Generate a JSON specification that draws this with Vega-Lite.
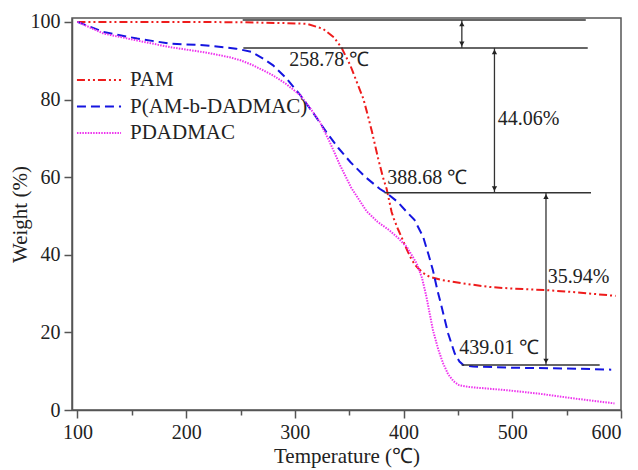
{
  "$schema": "https://vega.github.io/schema/vega-lite/v6.json",
  "width": 549,
  "height": 392,
  "autosize": {"type": "none"},
  "padding": {"left": 72, "top": 18, "right": 17, "bottom": 60},
  "background": "white",
  "config": {
    "view": {"stroke": "#555", "strokeWidth": 1.5},
    "axis": {
      "labelFont": "Liberation Serif", "labelFontSize": 20, "labelColor": "#222",
      "titleFont": "Liberation Serif", "titleFontSize": 21, "titleColor": "#222", "titleFontWeight": "normal",
      "domainColor": "#555", "domainWidth": 1.5, "tickColor": "#555", "tickWidth": 1.5,
      "grid": false, "labelPadding": 4
    },
    "legend": {"labelFont": "Liberation Serif", "labelFontSize": 21, "labelColor": "#222", "labelLimit": 0}
  },
  "datasets": {
    "curves": [
      {"T": 100, "W": 100, "s": "PAM"}, {"T": 150, "W": 100, "s": "PAM"}, {"T": 200, "W": 100, "s": "PAM"},
      {"T": 250, "W": 99.9, "s": "PAM"}, {"T": 290, "W": 99.7, "s": "PAM"}, {"T": 311, "W": 99.5, "s": "PAM"},
      {"T": 326, "W": 98.2, "s": "PAM"}, {"T": 336, "W": 96.0, "s": "PAM"}, {"T": 343, "W": 93.3, "s": "PAM"},
      {"T": 351, "W": 88.8, "s": "PAM"}, {"T": 357, "W": 84.5, "s": "PAM"}, {"T": 363, "W": 80.2, "s": "PAM"},
      {"T": 367, "W": 76.0, "s": "PAM"}, {"T": 371, "W": 71.6, "s": "PAM"}, {"T": 376.6, "W": 64.8, "s": "PAM"},
      {"T": 381, "W": 60.0, "s": "PAM"}, {"T": 384.4, "W": 57.0, "s": "PAM"}, {"T": 389, "W": 51.0, "s": "PAM"},
      {"T": 391, "W": 49.3, "s": "PAM"}, {"T": 395, "W": 46.5, "s": "PAM"}, {"T": 398, "W": 44.6, "s": "PAM"},
      {"T": 402, "W": 42.0, "s": "PAM"}, {"T": 406, "W": 39.5, "s": "PAM"}, {"T": 410, "W": 37.6, "s": "PAM"},
      {"T": 413.4, "W": 36.5, "s": "PAM"}, {"T": 418, "W": 35.3, "s": "PAM"}, {"T": 424, "W": 34.3, "s": "PAM"},
      {"T": 435, "W": 33.5, "s": "PAM"}, {"T": 455, "W": 32.6, "s": "PAM"}, {"T": 479, "W": 31.7, "s": "PAM"},
      {"T": 499, "W": 31.3, "s": "PAM"}, {"T": 531, "W": 30.9, "s": "PAM"}, {"T": 560, "W": 30.3, "s": "PAM"},
      {"T": 595, "W": 29.4, "s": "PAM"},

      {"T": 100, "W": 100, "s": "P(AM-b-DADMAC)"}, {"T": 124, "W": 97.4, "s": "P(AM-b-DADMAC)"},
      {"T": 155, "W": 95.7, "s": "P(AM-b-DADMAC)"}, {"T": 185, "W": 94.4, "s": "P(AM-b-DADMAC)"},
      {"T": 216, "W": 94.0, "s": "P(AM-b-DADMAC)"}, {"T": 246, "W": 93.1, "s": "P(AM-b-DADMAC)"},
      {"T": 260, "W": 92.3, "s": "P(AM-b-DADMAC)"}, {"T": 271, "W": 90.5, "s": "P(AM-b-DADMAC)"},
      {"T": 280, "W": 88.8, "s": "P(AM-b-DADMAC)"}, {"T": 292, "W": 85.5, "s": "P(AM-b-DADMAC)"},
      {"T": 305, "W": 81.1, "s": "P(AM-b-DADMAC)"}, {"T": 317, "W": 76.5, "s": "P(AM-b-DADMAC)"},
      {"T": 329, "W": 71.6, "s": "P(AM-b-DADMAC)"}, {"T": 340, "W": 67.5, "s": "P(AM-b-DADMAC)"},
      {"T": 351, "W": 63.9, "s": "P(AM-b-DADMAC)"}, {"T": 365, "W": 60.0, "s": "P(AM-b-DADMAC)"},
      {"T": 378, "W": 57.0, "s": "P(AM-b-DADMAC)"}, {"T": 385, "W": 55.8, "s": "P(AM-b-DADMAC)"},
      {"T": 395, "W": 53.5, "s": "P(AM-b-DADMAC)"}, {"T": 403, "W": 51.0, "s": "P(AM-b-DADMAC)"},
      {"T": 410, "W": 49.0, "s": "P(AM-b-DADMAC)"}, {"T": 418, "W": 44.6, "s": "P(AM-b-DADMAC)"},
      {"T": 423, "W": 40.0, "s": "P(AM-b-DADMAC)"}, {"T": 427, "W": 36.0, "s": "P(AM-b-DADMAC)"},
      {"T": 431, "W": 31.0, "s": "P(AM-b-DADMAC)"}, {"T": 435, "W": 26.6, "s": "P(AM-b-DADMAC)"},
      {"T": 441, "W": 19.7, "s": "P(AM-b-DADMAC)"}, {"T": 447, "W": 14.6, "s": "P(AM-b-DADMAC)"},
      {"T": 451.4, "W": 12.5, "s": "P(AM-b-DADMAC)"}, {"T": 455, "W": 11.6, "s": "P(AM-b-DADMAC)"},
      {"T": 464, "W": 11.2, "s": "P(AM-b-DADMAC)"}, {"T": 500, "W": 10.9, "s": "P(AM-b-DADMAC)"},
      {"T": 550, "W": 10.7, "s": "P(AM-b-DADMAC)"}, {"T": 591, "W": 10.4, "s": "P(AM-b-DADMAC)"},

      {"T": 100, "W": 100, "s": "PDADMAC"}, {"T": 124, "W": 97.0, "s": "PDADMAC"},
      {"T": 155, "W": 95.2, "s": "PDADMAC"}, {"T": 185, "W": 93.5, "s": "PDADMAC"},
      {"T": 216, "W": 92.2, "s": "PDADMAC"}, {"T": 240, "W": 90.9, "s": "PDADMAC"},
      {"T": 250, "W": 90.1, "s": "PDADMAC"}, {"T": 260, "W": 89.0, "s": "PDADMAC"},
      {"T": 271, "W": 87.5, "s": "PDADMAC"}, {"T": 280, "W": 86.2, "s": "PDADMAC"},
      {"T": 292, "W": 84.0, "s": "PDADMAC"}, {"T": 305, "W": 81.1, "s": "PDADMAC"},
      {"T": 314, "W": 77.8, "s": "PDADMAC"}, {"T": 323, "W": 74.2, "s": "PDADMAC"},
      {"T": 332, "W": 69.1, "s": "PDADMAC"}, {"T": 341.5, "W": 63.1, "s": "PDADMAC"},
      {"T": 352, "W": 57.2, "s": "PDADMAC"}, {"T": 366, "W": 51.2, "s": "PDADMAC"},
      {"T": 376, "W": 48.5, "s": "PDADMAC"}, {"T": 387, "W": 46.3, "s": "PDADMAC"},
      {"T": 395, "W": 44.3, "s": "PDADMAC"}, {"T": 403, "W": 42.0, "s": "PDADMAC"},
      {"T": 412, "W": 37.8, "s": "PDADMAC"}, {"T": 417, "W": 34.0, "s": "PDADMAC"},
      {"T": 421, "W": 29.2, "s": "PDADMAC"}, {"T": 427, "W": 20.6, "s": "PDADMAC"},
      {"T": 432, "W": 15.5, "s": "PDADMAC"}, {"T": 436.4, "W": 12.0, "s": "PDADMAC"},
      {"T": 441, "W": 9.2, "s": "PDADMAC"}, {"T": 446, "W": 7.4, "s": "PDADMAC"},
      {"T": 451, "W": 6.4, "s": "PDADMAC"}, {"T": 461, "W": 5.9, "s": "PDADMAC"},
      {"T": 495, "W": 5.1, "s": "PDADMAC"}, {"T": 525, "W": 4.2, "s": "PDADMAC"},
      {"T": 556, "W": 3.0, "s": "PDADMAC"}, {"T": 594, "W": 1.7, "s": "PDADMAC"}
    ],
    "hlines": [
      {"x1": 252, "x2": 567.6, "y": 100.5},
      {"x1": 252.6, "x2": 569.4, "y": 93.3},
      {"x1": 382.5, "x2": 572.4, "y": 56.0},
      {"x1": 453.4, "x2": 580.4, "y": 11.6}
    ],
    "vlines": [
      {"x": 453.6, "y1": 100.5, "y2": 93.3},
      {"x": 483.6, "y1": 93.3, "y2": 56.0},
      {"x": 531, "y1": 56.0, "y2": 11.6}
    ],
    "labels": [
      {"x": 294.9, "y": 90.1, "t": "258.78 ℃"},
      {"x": 486.7, "y": 74.9, "t": "44.06%"},
      {"x": 385, "y": 59.9, "t": "388.68 ℃"},
      {"x": 532.6, "y": 34.3, "t": "35.94%"},
      {"x": 451.1, "y": 15.9, "t": "439.01 ℃"}
    ]
  },
  "layer": [
    {
      "data": {"name": "curves"},
      "mark": {"type": "line", "strokeWidth": 2, "clip": true},
      "encoding": {
        "x": {
          "field": "T", "type": "quantitative",
          "scale": {"domain": [95, 600], "nice": false, "zero": false},
          "axis": {
            "title": "Temperature (℃)",
            "values": [100, 150, 200, 250, 300, 350, 400, 450, 500, 550, 600],
            "labelExpr": "datum.value % 100 === 0 ? datum.label : ''",
            "tickSize": {"condition": {"test": "datum.value % 100 === 0", "value": 8}, "value": 5},
            "titlePadding": 3
          }
        },
        "y": {
          "field": "W", "type": "quantitative",
          "scale": {"domain": [0, 101], "nice": false},
          "axis": {
            "title": "Weight (%)",
            "values": [0, 10, 20, 30, 40, 50, 60, 70, 80, 90, 100],
            "labelExpr": "datum.value % 20 === 0 ? datum.label : ''",
            "tickSize": {"condition": {"test": "datum.value % 20 === 0", "value": 8}, "value": 5},
            "titlePadding": 0
          }
        },
        "color": {
          "field": "s", "type": "nominal",
          "scale": {"domain": ["PAM", "P(AM-b-DADMAC)", "PDADMAC"], "range": ["#ee1c1c", "#1515e0", "#ee33ee"]},
          "legend": {
            "title": null, "orient": "none", "legendX": 11, "legendY": 46,
            "symbolType": "M-1.47,0H1.47", "symbolSize": 900, "symbolStrokeWidth": 2,
            "rowPadding": 0.5, "labelOffset": 15, "labelLimit": 0
          }
        },
        "strokeDash": {
          "field": "s", "type": "nominal",
          "scale": {"domain": ["PAM", "P(AM-b-DADMAC)", "PDADMAC"], "range": [[8, 3, 2, 3, 2, 3], [9, 5], [1.5, 1.2]]},
          "legend": null
        },
        "order": {"field": "T", "type": "quantitative"}
      }
    },
    {
      "data": {"name": "hlines"},
      "mark": {"type": "rule", "color": "#333", "strokeWidth": 1.5},
      "encoding": {
        "x": {"field": "x1", "type": "quantitative"},
        "x2": {"field": "x2"},
        "y": {"field": "y", "type": "quantitative"}
      }
    },
    {
      "data": {"name": "vlines"},
      "mark": {"type": "rule", "color": "#333", "strokeWidth": 1.3},
      "encoding": {
        "x": {"field": "x", "type": "quantitative"},
        "y": {"field": "y1", "type": "quantitative"},
        "y2": {"field": "y2"}
      }
    },
    {
      "data": {"name": "vlines"},
      "mark": {"type": "point", "shape": "triangle-up", "filled": true, "color": "#222", "size": 28, "yOffset": 4, "opacity": 1},
      "encoding": {
        "x": {"field": "x", "type": "quantitative"},
        "y": {"field": "y1", "type": "quantitative"}
      }
    },
    {
      "data": {"name": "vlines"},
      "mark": {"type": "point", "shape": "triangle-down", "filled": true, "color": "#222", "size": 28, "yOffset": -4, "opacity": 1},
      "encoding": {
        "x": {"field": "x", "type": "quantitative"},
        "y": {"field": "y2", "type": "quantitative"}
      }
    },
    {
      "data": {"name": "labels"},
      "mark": {"type": "text", "align": "left", "baseline": "middle", "font": "Liberation Serif", "fontSize": 20, "color": "#222"},
      "encoding": {
        "x": {"field": "x", "type": "quantitative"},
        "y": {"field": "y", "type": "quantitative"},
        "text": {"field": "t"}
      }
    }
  ]
}
